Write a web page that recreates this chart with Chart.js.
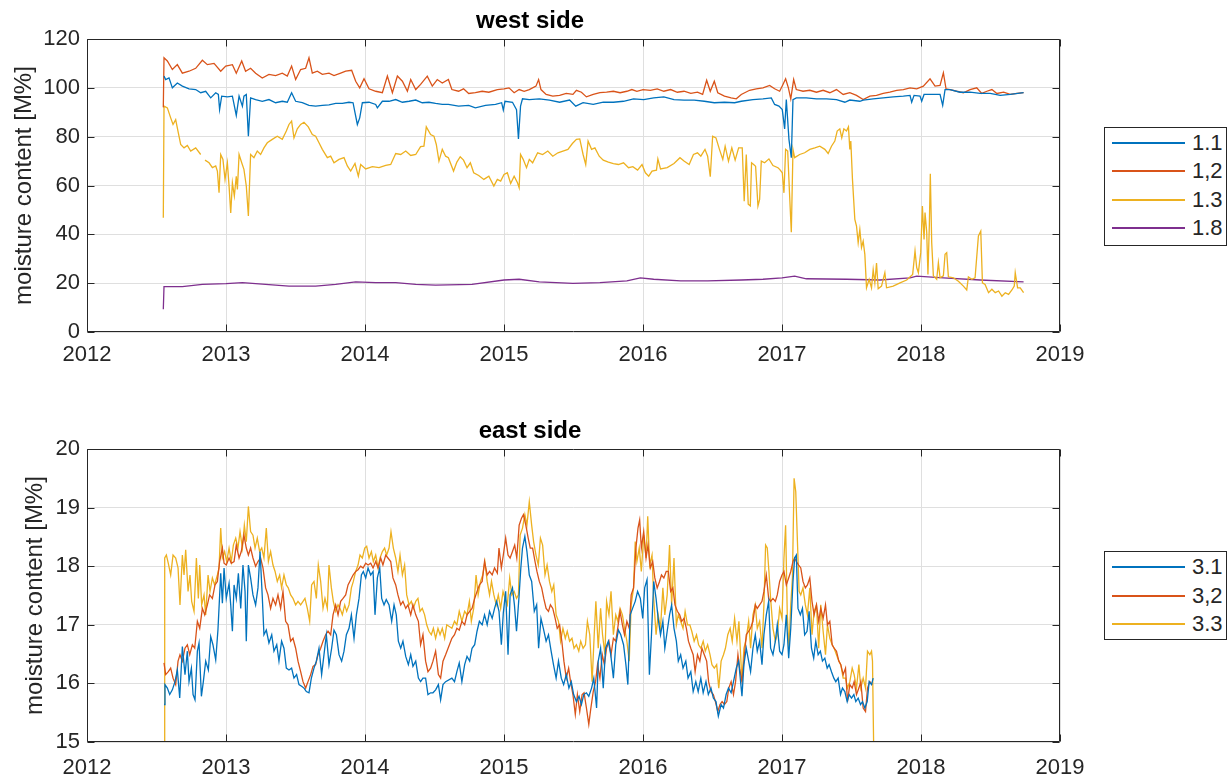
<!DOCTYPE html>
<html>
<head>
<meta charset="utf-8">
<script src="https://cdn.jsdelivr.net/npm/chart.js@4.4.1/dist/chart.umd.min.js"></script>
<style>
  html, body { margin: 0; padding: 0; background: #fff; }
  body { width: 1227px; height: 778px; position: relative; overflow: hidden; font-family: "Liberation Sans", Arial, Helvetica, sans-serif; }
  .wrap { position: absolute; left: 0; width: 1147px; }
  .legend { position: absolute; left: 1104px; width: 121px; border: 1px solid #262626; background: #fff; }
  .legend .row { position: absolute; left: 0; height: 0; }
  .legend .ln { position: absolute; left: 7px; width: 73px; height: 2px; top: -1px; }
  .legend .tx { position: absolute; left: 87px; top: -13px; font-size: 22px; line-height: 26px; color: #262626; white-space: nowrap; }
</style>
</head>
<body>
<div class="wrap" id="wTop" style="top:0;height:390px;"><canvas id="west"></canvas></div>
<div class="wrap" id="wBot" style="top:390px;height:388px;"><canvas id="east"></canvas></div>
<div class="legend" id="legWest" style="top:127px;height:117px;"></div>
<div class="legend" id="legEast" style="top:551px;height:87px;"></div>
<script>
// ---------------- DATA ----------------
const yearTicks = [2012, 2013, 2014, 2015, 2016, 2017, 2018, 2019];
const westYTicks = [0, 20, 40, 60, 80, 100, 120];
const eastYTicks = [15, 16, 17, 18, 19, 20];
const westLabels = ['1.1', '1,2', '1.3', '1.8'];
const eastLabels = ['3.1', '3,2', '3.3'];

const west11 = [[2012.554,104.8],[2012.566,103.4],[2012.590,104.1],[2012.614,100],[2012.650,102],[2012.686,100.7],[2012.734,99.6],[2012.782,99.3],[2012.818,98],[2012.854,98.6],[2012.890,95.9],[2012.926,98],[2012.945,97.3],[2012.954,91.1],[2012.969,96.6],[2013.010,96.3],[2013.046,96.6],[2013.074,88.7],[2013.094,96.6],[2013.118,92.5],[2013.129,96.6],[2013.146,97.3],[2013.161,80.2],[2013.177,95.9],[2013.213,95.2],[2013.261,94.5],[2013.309,95.2],[2013.357,93.9],[2013.405,94.5],[2013.441,94.1],[2013.472,98],[2013.501,94.5],[2013.549,93.9],[2013.597,92.8],[2013.645,92.5],[2013.693,92.8],[2013.741,93],[2013.789,93.6],[2013.837,93.6],[2013.885,94.1],[2013.914,93.9],[2013.928,89.8],[2013.945,85],[2013.962,87.7],[2013.981,93.9],[2014.029,94.1],[2014.077,93.2],[2014.089,91.8],[2014.125,94.5],[2014.173,94.5],[2014.221,95.2],[2014.269,94.1],[2014.317,94.5],[2014.365,95],[2014.412,93.9],[2014.460,94.1],[2014.508,93.6],[2014.556,93.2],[2014.600,93.2],[2014.673,92.5],[2014.746,92.8],[2014.794,91.8],[2014.867,92.8],[2014.939,93.2],[2014.983,93.9],[2014.995,90.9],[2015.007,94.5],[2015.061,94.1],[2015.090,91.1],[2015.104,79.1],[2015.119,92.5],[2015.133,95.5],[2015.182,95.2],[2015.254,95.5],[2015.327,95],[2015.400,94.1],[2015.472,95],[2015.516,92.5],[2015.569,93.9],[2015.642,93.2],[2015.714,94.1],[2015.787,94.1],[2015.860,94.5],[2015.932,95.5],[2016.005,95.2],[2016.077,95.9],[2016.150,96.3],[2016.223,95.2],[2016.295,95],[2016.368,95],[2016.441,94.5],[2016.513,93.9],[2016.586,94.1],[2016.659,93.9],[2016.707,94.5],[2016.791,95.2],[2016.863,95.5],[2016.923,95.9],[2016.947,93.2],[2016.978,92.5],[2017.002,91.1],[2017.019,83.2],[2017.031,95.2],[2017.050,78.9],[2017.067,71.4],[2017.079,95.2],[2017.103,95.9],[2017.175,95.9],[2017.248,95.5],[2017.320,95.5],[2017.392,95.2],[2017.452,94.1],[2017.488,95],[2017.560,94.5],[2017.584,95],[2017.656,95.5],[2017.728,95.9],[2017.800,96.3],[2017.873,96.6],[2017.921,96.9],[2017.933,94.1],[2017.950,96.9],[2017.993,96.6],[2018.005,94.5],[2018.022,97.3],[2018.089,97.3],[2018.137,97.3],[2018.156,92.8],[2018.173,99.3],[2018.209,99.3],[2018.281,98.2],[2018.353,98.2],[2018.425,97.7],[2018.498,97.7],[2018.570,96.9],[2018.642,97.3],[2018.738,98]];

const west12 = [[2012.549,92],[2012.554,112.3],[2012.578,111],[2012.614,107.5],[2012.650,109.5],[2012.686,106],[2012.734,106.8],[2012.782,108],[2012.830,111.3],[2012.866,109.5],[2012.914,110],[2012.962,106.8],[2012.998,108.9],[2013.046,109.5],[2013.074,106],[2013.113,111],[2013.141,106.8],[2013.177,108],[2013.213,106],[2013.261,104],[2013.309,105.5],[2013.357,105],[2013.405,106],[2013.441,104.8],[2013.472,108.9],[2013.501,103.4],[2013.537,107.5],[2013.573,108],[2013.597,112.3],[2013.621,106],[2013.657,106.8],[2013.693,105.5],[2013.741,106],[2013.777,105],[2013.825,106],[2013.861,106.8],[2013.904,107.2],[2013.933,102.7],[2013.962,100],[2013.993,103.7],[2014.029,99.6],[2014.077,98.6],[2014.125,98],[2014.161,104.8],[2014.197,98],[2014.233,104.8],[2014.269,102.7],[2014.305,98.6],[2014.329,103.4],[2014.365,99.3],[2014.400,101.4],[2014.448,104.8],[2014.484,100.7],[2014.520,103.4],[2014.556,102],[2014.600,103.4],[2014.625,99.3],[2014.673,98.6],[2014.709,99.6],[2014.746,97.7],[2014.794,98],[2014.843,98.6],[2014.891,98.2],[2014.952,99.3],[2015.000,99.6],[2015.036,100],[2015.073,98],[2015.109,99.3],[2015.145,98.6],[2015.182,99.3],[2015.230,100.7],[2015.249,103.4],[2015.266,99.3],[2015.303,97.3],[2015.351,96.6],[2015.400,96.9],[2015.448,97.7],[2015.496,97.3],[2015.521,99],[2015.557,98.2],[2015.593,96.3],[2015.642,97.3],[2015.690,98],[2015.738,98.2],[2015.787,98.6],[2015.835,98],[2015.884,98.6],[2015.920,99.3],[2015.956,98.6],[2016.000,99.3],[2016.053,99],[2016.102,99.6],[2016.150,98.6],[2016.199,99.3],[2016.247,98.2],[2016.295,98.6],[2016.344,97.7],[2016.392,98.2],[2016.429,97.3],[2016.458,103.1],[2016.484,98.6],[2016.513,102.7],[2016.538,98],[2016.586,96.6],[2016.634,95.9],[2016.671,95.5],[2016.707,97.3],[2016.767,99],[2016.815,99.6],[2016.863,100],[2016.911,101],[2016.947,99.6],[2016.983,98.6],[2017.007,101.4],[2017.026,103.7],[2017.046,100],[2017.063,95.5],[2017.084,103.4],[2017.103,99.3],[2017.151,98.6],[2017.200,99],[2017.248,98.2],[2017.296,99],[2017.344,98],[2017.392,99.3],[2017.440,97.3],[2017.488,98],[2017.536,96.9],[2017.584,95.2],[2017.632,96.6],[2017.680,96.9],[2017.728,97.7],[2017.776,98.2],[2017.825,99],[2017.873,99.3],[2017.921,100],[2017.969,99.6],[2018.017,100.7],[2018.065,103.7],[2018.101,100.7],[2018.137,101],[2018.161,106.1],[2018.180,99.6],[2018.209,99.3],[2018.257,98.6],[2018.305,98],[2018.353,99.3],[2018.401,100],[2018.437,97.7],[2018.474,98.6],[2018.510,99.3],[2018.546,97.7],[2018.594,98.2],[2018.642,97.3],[2018.690,97.7],[2018.738,98]];

const west13 = [[2012.549,46.8],[2012.554,92.5],[2012.578,91.8],[2012.602,87.7],[2012.619,85],[2012.638,87],[2012.657,81.6],[2012.674,76.8],[2012.698,75.4],[2012.722,76.4],[2012.746,74.1],[2012.782,75.4],[2012.818,72.7],[2012.835,null],[2012.849,70.4],[2012.878,69.3],[2012.902,67.3],[2012.926,68],[2012.938,65.9],[2012.950,57],[2012.962,72.7],[2012.978,70.7],[2012.993,62.5],[2013.010,69.3],[2013.022,59.8],[2013.034,48.8],[2013.046,61.1],[2013.060,55.7],[2013.074,63.8],[2013.082,58.4],[2013.094,72.7],[2013.113,69.3],[2013.129,66.6],[2013.146,59.8],[2013.161,47.5],[2013.177,72.7],[2013.201,71.4],[2013.225,74.1],[2013.249,72.7],[2013.273,75.4],[2013.297,77.5],[2013.333,78.9],[2013.369,80.2],[2013.405,78.9],[2013.434,82.3],[2013.453,85],[2013.472,86.4],[2013.489,79.5],[2013.513,83.2],[2013.537,85],[2013.561,85.9],[2013.592,84],[2013.621,80.9],[2013.645,80.2],[2013.669,77.5],[2013.693,74.8],[2013.729,71.4],[2013.753,72],[2013.777,69.3],[2013.813,70.7],[2013.849,71.4],[2013.873,68],[2013.897,65.9],[2013.928,69],[2013.952,63.8],[2013.969,68.6],[2014.005,66.8],[2014.053,67.7],[2014.101,67.3],[2014.149,68.2],[2014.185,68.6],[2014.221,73.1],[2014.257,72.7],[2014.293,74.1],[2014.329,72.3],[2014.365,72.7],[2014.400,75.9],[2014.424,76.1],[2014.441,84],[2014.472,80.9],[2014.496,80.2],[2014.513,76.8],[2014.532,70],[2014.556,74.8],[2014.580,72],[2014.600,71.4],[2014.637,65.9],[2014.661,69.6],[2014.685,71.8],[2014.709,70.4],[2014.734,67.3],[2014.758,69.3],[2014.782,65.2],[2014.818,64.1],[2014.855,62.5],[2014.891,63.8],[2014.927,59.8],[2014.952,62.5],[2014.976,61.8],[2015.000,64.5],[2015.024,65.2],[2015.048,60.8],[2015.073,63.8],[2015.097,61.1],[2015.109,59.1],[2015.119,72.7],[2015.138,70.7],[2015.162,67.3],[2015.182,70.7],[2015.206,69.3],[2015.242,73.4],[2015.278,72.7],[2015.315,74.1],[2015.351,72],[2015.388,73.4],[2015.424,74.1],[2015.460,74.8],[2015.492,77.2],[2015.521,78.9],[2015.545,79.1],[2015.569,72.7],[2015.588,68.6],[2015.605,78.2],[2015.630,74.8],[2015.654,75.4],[2015.685,72],[2015.714,70.4],[2015.751,69.6],[2015.787,69],[2015.823,68.6],[2015.860,69.3],[2015.896,67.3],[2015.927,67.7],[2015.961,66.3],[2015.993,68.6],[2016.017,65.2],[2016.041,63.8],[2016.065,65.9],[2016.097,66.3],[2016.107,70.9],[2016.126,66.8],[2016.174,67.3],[2016.223,69],[2016.266,71.4],[2016.295,70],[2016.332,68.6],[2016.363,72.7],[2016.392,73.4],[2016.416,72],[2016.446,74.8],[2016.465,72],[2016.484,63.6],[2016.501,80.2],[2016.525,79.5],[2016.550,74.8],[2016.574,70.7],[2016.591,76.1],[2016.615,70],[2016.639,75.4],[2016.663,70.4],[2016.688,75.4],[2016.714,75.4],[2016.728,53.6],[2016.743,72.7],[2016.757,52.3],[2016.772,51.6],[2016.781,69.3],[2016.796,68.6],[2016.810,67.9],[2016.827,51.6],[2016.839,54.3],[2016.851,70],[2016.875,69.3],[2016.906,70.9],[2016.935,68.2],[2016.971,67.3],[2016.983,66.6],[2017.002,65.2],[2017.014,57],[2017.026,74.8],[2017.041,74.1],[2017.055,55.7],[2017.067,40.9],[2017.079,74.8],[2017.091,71.4],[2017.127,72.7],[2017.163,73.4],[2017.200,74.8],[2017.236,75.4],[2017.272,76.1],[2017.308,74.8],[2017.332,73.1],[2017.356,76.1],[2017.380,78.2],[2017.397,82.3],[2017.416,83.2],[2017.430,79.5],[2017.445,83.2],[2017.464,82.3],[2017.478,84],[2017.488,74.8],[2017.495,78.2],[2017.507,62.5],[2017.524,46.1],[2017.536,43.4],[2017.548,36.6],[2017.560,42],[2017.572,34.6],[2017.584,37.2],[2017.596,31.8],[2017.608,18.1],[2017.627,21.6],[2017.644,18.1],[2017.656,25.5],[2017.668,20.1],[2017.680,28.2],[2017.692,17.7],[2017.716,18.8],[2017.740,24.3],[2017.752,18.1],[2017.800,18.8],[2017.849,20.1],[2017.897,21.3],[2017.940,23.6],[2017.957,33.2],[2017.969,26.4],[2017.981,24.3],[2017.998,32.5],[2018.010,51.6],[2018.022,37.9],[2018.029,48.9],[2018.041,40.9],[2018.050,23.6],[2018.060,43.6],[2018.067,64.8],[2018.077,36.6],[2018.089,23],[2018.113,21.6],[2018.125,28.4],[2018.137,22.2],[2018.161,23],[2018.173,31.8],[2018.185,32.5],[2018.197,22.6],[2018.233,22.2],[2018.269,20.8],[2018.305,18.8],[2018.329,17.2],[2018.341,22.6],[2018.365,21.6],[2018.389,22.2],[2018.413,39.3],[2018.430,41.3],[2018.442,20.1],[2018.461,19.5],[2018.486,16.1],[2018.510,17.5],[2018.534,16.1],[2018.558,16.8],[2018.582,14.7],[2018.606,16.1],[2018.630,15.4],[2018.654,17.2],[2018.671,18.8],[2018.678,24.3],[2018.695,18.1],[2018.714,18.1],[2018.738,16.1]];

const west18 = [[2012.549,9.3],[2012.554,18.6],[2012.686,18.6],[2012.830,19.5],[2013.000,19.8],[2013.118,20.2],[2013.285,19.5],[2013.453,18.8],[2013.645,18.8],[2013.789,19.5],[2013.933,20.5],[2014.077,20.2],[2014.221,20.2],[2014.365,19.5],[2014.508,19.2],[2014.770,19.5],[2015.000,21.3],[2015.109,21.6],[2015.254,20.5],[2015.496,19.9],[2015.690,20.2],[2015.884,20.9],[2015.981,22.2],[2016.077,21.6],[2016.271,20.9],[2016.465,20.9],[2016.707,21.3],[2016.863,21.6],[2017.000,22.2],[2017.091,22.9],[2017.175,21.8],[2017.464,21.6],[2017.704,21.3],[2017.921,22.2],[2017.969,22.9],[2018.161,22.2],[2018.425,21.3],[2018.738,20.5]];

const east31 = [[2012.554,15.64],[2012.561,15.98],[2012.578,15.92],[2012.595,15.81],[2012.614,15.89],[2012.633,16.03],[2012.650,16.23],[2012.667,15.75],[2012.686,16.63],[2012.705,16.15],[2012.722,16.55],[2012.734,16.03],[2012.751,16.26],[2012.763,15.81],[2012.777,15.72],[2012.794,16.55],[2012.806,16.69],[2012.823,15.78],[2012.837,16.03],[2012.854,16.38],[2012.873,16.23],[2012.890,16.8],[2012.906,16.66],[2012.926,16.4],[2012.942,16.91],[2012.962,17.88],[2012.974,17.37],[2012.986,17.97],[2013.002,17.45],[2013.022,17.71],[2013.034,17.34],[2013.046,16.89],[2013.058,17.68],[2013.074,17.45],[2013.089,17.88],[2013.106,17.28],[2013.122,18.02],[2013.137,17.57],[2013.146,16.72],[2013.161,18.02],[2013.177,17.8],[2013.194,17.51],[2013.213,17.34],[2013.230,17.63],[2013.245,18.25],[2013.261,17.48],[2013.273,16.83],[2013.290,16.91],[2013.309,16.69],[2013.329,16.83],[2013.345,16.55],[2013.365,16.66],[2013.381,16.38],[2013.400,16.72],[2013.417,16.6],[2013.434,16.26],[2013.453,16.23],[2013.472,16.26],[2013.489,16.09],[2013.508,16.15],[2013.525,15.98],[2013.544,15.95],[2013.561,15.92],[2013.578,15.86],[2013.597,15.84],[2013.614,16.09],[2013.633,16.26],[2013.650,16.38],[2013.669,16.6],[2013.688,16.15],[2013.705,16.49],[2013.722,16.83],[2013.741,16.32],[2013.760,16.6],[2013.777,16.91],[2013.794,16.83],[2013.813,16.49],[2013.832,16.38],[2013.849,16.55],[2013.866,16.83],[2013.885,16.94],[2013.902,17.17],[2013.921,16.77],[2013.938,17.17],[2013.957,17.45],[2013.974,17.85],[2013.988,17.91],[2014.005,17.8],[2014.022,17.97],[2014.041,17.85],[2014.058,17.91],[2014.072,17.17],[2014.089,17.8],[2014.106,17.97],[2014.120,17.45],[2014.137,17.34],[2014.153,17.43],[2014.173,17.34],[2014.192,17.06],[2014.209,17.34],[2014.225,17.17],[2014.240,16.72],[2014.257,16.6],[2014.273,16.72],[2014.293,16.46],[2014.312,16.32],[2014.329,16.49],[2014.345,16.29],[2014.365,16.38],[2014.384,16.09],[2014.400,16.03],[2014.417,16.09],[2014.436,16.09],[2014.453,15.81],[2014.472,15.84],[2014.489,15.84],[2014.508,15.89],[2014.528,15.98],[2014.544,15.72],[2014.561,15.98],[2014.580,16.03],[2014.625,16.09],[2014.644,16.03],[2014.661,16.2],[2014.678,16.35],[2014.697,16.03],[2014.717,16.32],[2014.734,16.46],[2014.753,16.38],[2014.770,16.6],[2014.789,16.66],[2014.806,16.89],[2014.823,17.06],[2014.843,17.0],[2014.860,17.17],[2014.879,17.0],[2014.896,17.23],[2014.915,17.11],[2014.932,17.28],[2014.947,17.4],[2014.964,17.23],[2014.981,16.66],[2014.995,17.2],[2015.012,17.57],[2015.029,16.49],[2015.044,17.51],[2015.061,17.63],[2015.075,17.34],[2015.090,16.89],[2015.109,17.51],[2015.121,17.97],[2015.133,18.31],[2015.150,18.51],[2015.165,18.25],[2015.182,17.85],[2015.199,17.74],[2015.218,17.23],[2015.235,17.34],[2015.249,16.6],[2015.266,17.11],[2015.283,16.94],[2015.303,16.72],[2015.320,16.83],[2015.339,16.55],[2015.356,16.32],[2015.375,16.09],[2015.392,16.38],[2015.412,16.09],[2015.429,15.98],[2015.448,16.15],[2015.467,15.92],[2015.484,16.03],[2015.501,15.81],[2015.521,15.69],[2015.540,15.78],[2015.557,15.64],[2015.574,15.81],[2015.593,15.84],[2015.610,15.78],[2015.630,15.92],[2015.646,16.09],[2015.666,15.58],[2015.678,16.38],[2015.695,16.6],[2015.714,15.92],[2015.731,16.6],[2015.751,16.72],[2015.768,16.49],[2015.787,16.09],[2015.804,16.66],[2015.823,16.91],[2015.840,16.83],[2015.860,16.66],[2015.877,16.32],[2015.891,15.98],[2015.908,17.17],[2015.925,17.28],[2015.944,17.4],[2015.961,17.57],[2015.981,17.45],[2015.998,17.11],[2016.012,17.63],[2016.029,17.77],[2016.046,16.15],[2016.061,16.83],[2016.077,17.74],[2016.094,17.45],[2016.109,17.11],[2016.126,16.83],[2016.143,17.06],[2016.157,16.6],[2016.174,16.89],[2016.191,17.17],[2016.206,17.34],[2016.223,16.94],[2016.240,16.72],[2016.254,16.38],[2016.271,16.49],[2016.288,16.26],[2016.308,16.38],[2016.324,16.09],[2016.344,16.2],[2016.361,15.86],[2016.380,16.03],[2016.397,15.86],[2016.416,16.09],[2016.433,15.84],[2016.453,16.03],[2016.470,15.81],[2016.489,15.92],[2016.506,15.75],[2016.525,15.69],[2016.542,15.44],[2016.562,15.64],[2016.579,15.58],[2016.598,15.81],[2016.615,15.92],[2016.634,15.84],[2016.651,16.03],[2016.671,16.26],[2016.688,16.38],[2016.712,15.78],[2016.726,16.32],[2016.743,16.6],[2016.760,16.38],[2016.774,16.2],[2016.791,16.6],[2016.808,16.83],[2016.822,16.55],[2016.839,16.72],[2016.856,16.32],[2016.870,16.83],[2016.887,17.17],[2016.904,17.4],[2016.918,16.6],[2016.935,16.49],[2016.952,16.72],[2016.966,17.0],[2016.983,16.55],[2017.000,16.49],[2017.014,16.66],[2017.031,17.17],[2017.048,16.43],[2017.063,16.94],[2017.079,17.74],[2017.091,18.14],[2017.103,18.19],[2017.115,17.28],[2017.132,17.17],[2017.147,17.28],[2017.163,16.83],[2017.180,16.89],[2017.195,17.23],[2017.212,16.6],[2017.228,16.43],[2017.243,16.72],[2017.260,16.49],[2017.276,16.55],[2017.291,16.38],[2017.308,16.43],[2017.325,16.26],[2017.339,16.32],[2017.356,16.2],[2017.373,16.09],[2017.387,16.03],[2017.404,16.09],[2017.421,15.81],[2017.435,15.92],[2017.452,15.86],[2017.469,15.69],[2017.483,15.81],[2017.500,15.75],[2017.517,15.81],[2017.531,15.69],[2017.548,15.75],[2017.565,15.64],[2017.579,15.69],[2017.596,15.58],[2017.613,15.69],[2017.627,16.03],[2017.644,15.98],[2017.656,16.09]];

const east32 = [[2012.554,16.35],[2012.566,16.15],[2012.585,16.2],[2012.602,16.26],[2012.619,16.09],[2012.638,15.98],[2012.655,16.38],[2012.669,16.49],[2012.686,16.38],[2012.705,16.6],[2012.722,16.66],[2012.739,16.49],[2012.758,16.66],[2012.775,16.6],[2012.794,17.06],[2012.811,16.94],[2012.830,17.28],[2012.847,17.17],[2012.866,17.34],[2012.882,17.51],[2012.902,17.45],[2012.921,17.68],[2012.938,17.74],[2012.954,18.08],[2012.974,18.31],[2012.986,18.05],[2013.002,18.02],[2013.022,18.14],[2013.038,18.05],[2013.058,18.08],[2013.074,18.36],[2013.094,18.14],[2013.110,18.25],[2013.129,18.53],[2013.146,18.31],[2013.161,18.19],[2013.177,18.31],[2013.194,18.14],[2013.213,18.0],[2013.230,18.08],[2013.249,18.14],[2013.266,17.97],[2013.285,17.63],[2013.302,17.51],[2013.321,17.28],[2013.338,17.45],[2013.357,17.34],[2013.374,17.51],[2013.393,17.28],[2013.410,17.57],[2013.429,17.06],[2013.446,17.0],[2013.465,16.72],[2013.482,16.77],[2013.501,16.6],[2013.518,16.38],[2013.537,16.2],[2013.554,16.03],[2013.573,15.92],[2013.590,16.03],[2013.609,16.15],[2013.626,16.29],[2013.645,16.32],[2013.662,16.49],[2013.681,16.6],[2013.698,16.72],[2013.717,16.83],[2013.734,16.89],[2013.753,16.83],[2013.770,17.17],[2013.789,17.34],[2013.806,17.17],[2013.825,17.4],[2013.842,17.45],[2013.861,17.51],[2013.878,17.68],[2013.897,17.77],[2013.914,17.85],[2013.933,17.91],[2013.950,17.94],[2013.969,18.0],[2013.986,17.97],[2014.005,18.05],[2014.022,18.02],[2014.041,18.05],[2014.058,17.97],[2014.077,18.08],[2014.094,17.97],[2014.113,18.14],[2014.129,18.02],[2014.149,18.19],[2014.165,18.14],[2014.185,18.08],[2014.201,17.8],[2014.221,17.68],[2014.237,17.51],[2014.257,17.34],[2014.273,17.4],[2014.293,17.28],[2014.309,17.34],[2014.329,17.17],[2014.345,17.34],[2014.365,17.17],[2014.384,17.06],[2014.400,16.66],[2014.417,16.83],[2014.436,16.38],[2014.453,16.2],[2014.472,16.26],[2014.489,16.38],[2014.508,16.55],[2014.528,16.15],[2014.544,16.09],[2014.561,16.38],[2014.580,16.49],[2014.625,16.77],[2014.644,16.83],[2014.661,16.94],[2014.678,16.91],[2014.697,17.06],[2014.717,17.0],[2014.734,17.17],[2014.753,17.23],[2014.770,17.28],[2014.789,17.45],[2014.806,17.57],[2014.823,17.68],[2014.843,17.74],[2014.860,18.08],[2014.879,17.85],[2014.896,17.91],[2014.915,17.85],[2014.932,17.97],[2014.952,17.88],[2014.964,18.31],[2014.981,17.97],[2014.995,18.19],[2015.012,18.48],[2015.029,18.19],[2015.044,18.14],[2015.061,18.25],[2015.077,18.36],[2015.092,18.14],[2015.109,18.7],[2015.126,18.82],[2015.140,18.88],[2015.157,18.7],[2015.174,18.48],[2015.189,18.31],[2015.206,18.31],[2015.223,18.08],[2015.237,17.91],[2015.254,17.74],[2015.271,17.63],[2015.286,17.45],[2015.303,17.28],[2015.320,17.23],[2015.334,17.34],[2015.351,17.28],[2015.368,17.11],[2015.383,16.94],[2015.400,17.0],[2015.416,16.72],[2015.431,16.38],[2015.448,16.09],[2015.465,16.26],[2015.479,16.03],[2015.496,15.81],[2015.513,15.47],[2015.528,15.81],[2015.545,15.52],[2015.562,15.81],[2015.576,15.84],[2015.593,15.58],[2015.610,15.3],[2015.625,15.58],[2015.642,15.86],[2015.659,16.03],[2015.673,16.32],[2015.690,16.09],[2015.707,16.49],[2015.722,16.32],[2015.738,16.6],[2015.755,16.72],[2015.770,16.49],[2015.787,16.77],[2015.804,16.72],[2015.818,16.94],[2015.835,17.23],[2015.852,17.0],[2015.867,16.83],[2015.884,17.06],[2015.901,16.94],[2015.915,17.51],[2015.932,17.63],[2015.949,18.31],[2015.964,18.65],[2015.976,18.79],[2015.988,18.31],[2016.005,18.59],[2016.022,18.14],[2016.036,18.36],[2016.053,17.97],[2016.070,18.08],[2016.085,17.8],[2016.102,17.63],[2016.119,17.74],[2016.133,17.85],[2016.150,17.8],[2016.167,17.91],[2016.182,17.91],[2016.199,17.57],[2016.215,17.63],[2016.230,17.34],[2016.247,17.23],[2016.264,17.17],[2016.278,17.06],[2016.295,17.11],[2016.312,16.94],[2016.327,16.72],[2016.344,16.6],[2016.361,16.49],[2016.375,16.2],[2016.392,16.49],[2016.409,16.38],[2016.424,16.6],[2016.441,16.49],[2016.458,16.38],[2016.472,16.03],[2016.489,15.86],[2016.506,15.81],[2016.521,15.69],[2016.538,15.52],[2016.554,15.64],[2016.569,15.69],[2016.586,15.64],[2016.603,15.69],[2016.617,15.92],[2016.634,16.03],[2016.651,15.81],[2016.666,16.03],[2016.683,16.49],[2016.695,16.26],[2016.712,16.03],[2016.726,16.38],[2016.743,16.83],[2016.760,16.89],[2016.774,16.94],[2016.791,17.06],[2016.808,17.34],[2016.822,17.28],[2016.839,17.34],[2016.856,17.4],[2016.870,17.57],[2016.887,17.85],[2016.904,17.45],[2016.918,17.4],[2016.935,17.45],[2016.952,17.4],[2016.966,17.51],[2016.983,17.74],[2017.000,17.85],[2017.014,17.91],[2017.031,17.68],[2017.048,17.8],[2017.063,17.91],[2017.079,18.08],[2017.091,18.14],[2017.103,18.08],[2017.120,18.02],[2017.135,17.97],[2017.151,17.74],[2017.168,17.63],[2017.183,17.68],[2017.200,17.8],[2017.216,17.4],[2017.231,17.17],[2017.248,17.34],[2017.264,17.06],[2017.279,17.28],[2017.296,17.11],[2017.313,17.34],[2017.327,17.0],[2017.344,17.06],[2017.361,16.66],[2017.375,16.6],[2017.392,16.55],[2017.409,16.38],[2017.423,16.32],[2017.440,16.15],[2017.457,16.26],[2017.471,15.69],[2017.488,15.98],[2017.505,15.92],[2017.519,16.03],[2017.536,15.81],[2017.553,15.92],[2017.567,16.03],[2017.584,15.58],[2017.601,15.52],[2017.615,15.92],[2017.632,16.03],[2017.649,15.98]];

const east33 = [[2012.554,15.0],[2012.559,18.14],[2012.571,18.19],[2012.585,18.05],[2012.602,17.85],[2012.619,18.19],[2012.638,18.14],[2012.655,17.97],[2012.669,17.34],[2012.686,18.19],[2012.698,17.85],[2012.710,18.28],[2012.727,17.57],[2012.741,17.85],[2012.753,17.4],[2012.770,17.23],[2012.787,18.14],[2012.801,17.45],[2012.811,18.02],[2012.825,17.34],[2012.842,17.51],[2012.854,17.17],[2012.871,17.85],[2012.885,17.57],[2012.902,17.8],[2012.918,17.68],[2012.938,17.85],[2012.950,17.97],[2012.962,18.65],[2012.974,18.14],[2012.990,18.25],[2013.005,18.08],[2013.022,18.31],[2013.038,18.08],[2013.053,18.36],[2013.070,18.48],[2013.086,18.31],[2013.101,18.59],[2013.118,18.31],[2013.132,18.7],[2013.146,18.42],[2013.161,19.02],[2013.177,18.59],[2013.194,18.53],[2013.209,18.31],[2013.225,18.48],[2013.242,18.25],[2013.257,18.31],[2013.273,18.14],[2013.290,18.65],[2013.305,18.08],[2013.321,18.25],[2013.338,18.02],[2013.353,17.91],[2013.369,17.74],[2013.386,17.85],[2013.400,17.63],[2013.417,17.85],[2013.434,17.68],[2013.448,17.63],[2013.465,17.51],[2013.482,17.45],[2013.501,17.34],[2013.518,17.4],[2013.537,17.34],[2013.554,17.4],[2013.568,17.45],[2013.585,17.28],[2013.602,17.06],[2013.616,17.68],[2013.633,17.74],[2013.650,17.45],[2013.664,18.02],[2013.681,17.74],[2013.698,17.28],[2013.712,17.45],[2013.729,17.28],[2013.741,18.02],[2013.758,17.63],[2013.772,17.4],[2013.789,17.23],[2013.806,17.34],[2013.820,17.28],[2013.837,17.17],[2013.854,17.34],[2013.868,17.23],[2013.885,17.34],[2013.902,17.63],[2013.916,17.74],[2013.933,17.91],[2013.950,18.02],[2013.964,18.19],[2013.981,18.14],[2013.998,18.31],[2014.012,18.34],[2014.029,18.14],[2014.046,18.25],[2014.060,18.08],[2014.077,18.19],[2014.094,17.97],[2014.108,18.14],[2014.125,18.25],[2014.141,18.31],[2014.156,18.19],[2014.173,18.31],[2014.187,18.59],[2014.204,18.31],[2014.221,18.14],[2014.237,17.91],[2014.252,18.19],[2014.269,17.85],[2014.285,18.02],[2014.300,17.51],[2014.317,17.34],[2014.333,17.4],[2014.348,17.28],[2014.365,17.4],[2014.381,17.45],[2014.396,17.23],[2014.412,17.28],[2014.429,17.17],[2014.444,17.0],[2014.460,16.89],[2014.477,16.83],[2014.492,16.94],[2014.508,16.77],[2014.525,16.94],[2014.540,16.83],[2014.556,16.94],[2014.573,16.77],[2014.588,17.0],[2014.625,16.94],[2014.644,17.06],[2014.661,17.0],[2014.678,17.23],[2014.697,17.06],[2014.717,17.23],[2014.734,17.17],[2014.751,17.4],[2014.765,17.06],[2014.782,17.28],[2014.799,17.85],[2014.814,17.51],[2014.831,17.74],[2014.847,17.85],[2014.862,18.08],[2014.879,17.74],[2014.896,17.51],[2014.910,17.74],[2014.927,17.51],[2014.944,17.34],[2014.959,17.51],[2014.976,17.28],[2014.993,17.57],[2015.007,17.45],[2015.024,17.34],[2015.041,17.8],[2015.056,17.51],[2015.073,17.57],[2015.090,17.45],[2015.104,17.51],[2015.116,18.53],[2015.133,18.65],[2015.150,18.88],[2015.165,18.7],[2015.182,19.1],[2015.199,18.7],[2015.213,18.42],[2015.230,18.19],[2015.247,18.02],[2015.262,18.48],[2015.278,18.36],[2015.295,17.85],[2015.310,18.02],[2015.327,17.74],[2015.344,17.57],[2015.358,17.68],[2015.375,17.17],[2015.392,17.06],[2015.407,16.72],[2015.424,16.94],[2015.441,16.77],[2015.455,16.89],[2015.472,16.72],[2015.489,16.77],[2015.504,16.6],[2015.521,16.66],[2015.538,16.55],[2015.552,16.72],[2015.569,16.6],[2015.586,16.66],[2015.600,17.06],[2015.617,16.83],[2015.634,16.03],[2015.649,16.83],[2015.661,17.4],[2015.678,16.6],[2015.695,17.28],[2015.709,16.83],[2015.726,16.49],[2015.738,17.4],[2015.755,17.17],[2015.770,17.57],[2015.787,16.83],[2015.804,17.17],[2015.818,17.06],[2015.835,17.28],[2015.852,17.17],[2015.867,16.94],[2015.884,16.72],[2015.901,16.38],[2015.915,17.34],[2015.932,17.63],[2015.944,18.42],[2015.956,18.08],[2015.973,18.31],[2015.988,17.91],[2016.005,18.53],[2016.022,18.14],[2016.034,18.85],[2016.048,18.02],[2016.065,18.19],[2016.077,17.45],[2016.094,16.83],[2016.109,17.17],[2016.126,16.94],[2016.143,17.63],[2016.157,17.17],[2016.174,17.51],[2016.191,18.36],[2016.206,17.34],[2016.223,18.14],[2016.240,17.0],[2016.254,17.17],[2016.271,17.06],[2016.288,16.94],[2016.303,17.23],[2016.320,17.0],[2016.337,17.0],[2016.351,16.89],[2016.368,16.72],[2016.385,16.83],[2016.400,16.66],[2016.416,16.6],[2016.433,16.72],[2016.448,16.55],[2016.465,16.66],[2016.482,16.49],[2016.496,16.32],[2016.513,16.26],[2016.530,16.32],[2016.545,15.92],[2016.562,16.38],[2016.579,16.49],[2016.593,16.6],[2016.610,16.83],[2016.627,16.94],[2016.642,16.72],[2016.659,17.11],[2016.676,16.72],[2016.690,17.06],[2016.712,16.03],[2016.726,16.6],[2016.743,16.77],[2016.760,17.06],[2016.774,16.6],[2016.791,17.17],[2016.808,17.34],[2016.822,16.94],[2016.839,17.06],[2016.856,16.6],[2016.870,17.34],[2016.882,18.36],[2016.894,18.31],[2016.906,17.91],[2016.918,17.45],[2016.935,16.94],[2016.952,16.72],[2016.966,16.83],[2016.983,17.28],[2017.000,17.11],[2017.014,18.14],[2017.026,18.7],[2017.038,17.17],[2017.050,16.6],[2017.063,17.34],[2017.075,17.8],[2017.087,19.5],[2017.099,19.27],[2017.111,18.42],[2017.123,17.57],[2017.135,17.51],[2017.151,17.63],[2017.168,17.34],[2017.183,17.17],[2017.200,17.63],[2017.216,16.83],[2017.231,17.23],[2017.248,17.34],[2017.264,16.6],[2017.279,17.34],[2017.296,16.89],[2017.313,16.49],[2017.327,17.0],[2017.344,16.77],[2017.361,16.66],[2017.375,16.6],[2017.392,16.49],[2017.409,16.38],[2017.423,16.32],[2017.440,16.09],[2017.457,16.09],[2017.471,15.92],[2017.488,16.03],[2017.505,16.26],[2017.519,16.15],[2017.536,15.92],[2017.553,16.32],[2017.567,15.92],[2017.584,16.09],[2017.601,15.92],[2017.615,16.55],[2017.632,16.49],[2017.644,16.55],[2017.651,16.38],[2017.659,15.0]];

// ---------------- STYLE ----------------
const seriesColors = ['#0072BD', '#D95319', '#EDB120', '#7E2F8E'];
const FONT = '"Liberation Sans", Arial, Helvetica, sans-serif';
const AX = '#262626';
Chart.defaults.font.family = FONT;
Chart.defaults.color = AX;

const matlabBox = {
  id: 'matlabBox',
  afterDraw(chart) {
    const { ctx, chartArea: a, scales: { x, y } } = chart;
    const L = Math.round(a.left) + 0.5, R = Math.round(a.right) - 0.5;
    const T = Math.round(a.top) + 0.5, B = Math.round(a.bottom) - 0.5;
    ctx.save();
    ctx.strokeStyle = AX;
    ctx.lineWidth = 1;
    ctx.beginPath();
    ctx.rect(L, T, R - L, B - T);
    const tl = 7;
    x.ticks.forEach(t => {
      const p = Math.round(x.getPixelForValue(t.value)) + 0.5;
      ctx.moveTo(p, T); ctx.lineTo(p, T + tl);
      ctx.moveTo(p, B); ctx.lineTo(p, B - tl);
    });
    y.ticks.forEach(t => {
      const p = Math.round(y.getPixelForValue(t.value)) + 0.5;
      ctx.moveTo(L, p); ctx.lineTo(L + tl, p);
      ctx.moveTo(R, p); ctx.lineTo(R - tl, p);
    });
    ctx.stroke();
    ctx.restore();
  }
};

function makeChart(id, title, series, labels, yTicks, opt) {
  const datasets = series.map((d, i) => ({
    label: labels[i],
    data: d,
    borderColor: seriesColors[i],
    backgroundColor: seriesColors[i],
    borderWidth: 1.3,
    pointRadius: 0,
    pointHoverRadius: 0,
    tension: 0,
    fill: false,
    spanGaps: false
  }));
  return new Chart(document.getElementById(id), {
    type: 'line',
    data: { datasets },
    plugins: [matlabBox],
    options: {
      responsive: true,
      maintainAspectRatio: false,
      animation: false,
      events: [],
      layout: { padding: { top: 0, left: 0, right: 87, bottom: 0 } },
      plugins: {
        legend: { display: false },
        tooltip: { enabled: false },
        title: {
          display: true,
          text: title,
          color: '#000',
          font: { size: 24, weight: 'bold', family: FONT, lineHeight: 1.2 },
          padding: { top: opt.titleTop, bottom: opt.titleBottom }
        }
      },
      scales: {
        x: {
          type: 'linear',
          min: yearTicks[0],
          max: yearTicks[yearTicks.length - 1],
          afterBuildTicks: s => { s.ticks = yearTicks.map(v => ({ value: v })); },
          afterFit: s => { s.height = opt.xAxisH; },
          ticks: { autoSkip: false, maxRotation: 0, padding: opt.xPad, color: AX, font: { size: 22 }, callback: v => String(v) },
          grid: { color: '#dfdfdf', lineWidth: 1, drawTicks: false },
          border: { display: false }
        },
        y: {
          type: 'linear',
          min: yTicks[0],
          max: yTicks[yTicks.length - 1],
          afterBuildTicks: s => { s.ticks = yTicks.map(v => ({ value: v })); },
          afterFit: s => { s.width = 87; },
          ticks: { padding: 7, color: AX, font: { size: 22 }, callback: v => String(v) },
          grid: { color: '#dfdfdf', lineWidth: 1, drawTicks: false },
          border: { display: false },
          title: {
            display: true,
            text: 'moisture content [M%]',
            color: AX,
            font: { size: 24, family: FONT, lineHeight: 1.2 },
            padding: { top: opt.yTitlePad, bottom: 0 }
          }
        }
      }
    }
  });
}

makeChart('west', 'west side', [west11, west12, west13, west18], westLabels, westYTicks,
  { titleTop: 6.6, titleBottom: 3.6, xAxisH: 58, yTitlePad: 10, xPad: 10 });
makeChart('east', 'east side', [east31, east32, east33], eastLabels, eastYTicks,
  { titleTop: 26.6, titleBottom: 3.6, xAxisH: 36, yTitlePad: 21, xPad: 13 });

function makeLegend(id, labels, rowYs) {
  const box = document.getElementById(id);
  labels.forEach((lab, i) => {
    const row = document.createElement('div');
    row.className = 'row';
    row.style.top = rowYs[i] + 'px';
    const ln = document.createElement('div');
    ln.className = 'ln';
    ln.style.background = seriesColors[i];
    const tx = document.createElement('div');
    tx.className = 'tx';
    tx.textContent = lab;
    row.appendChild(ln);
    row.appendChild(tx);
    box.appendChild(row);
  });
}
makeLegend('legWest', westLabels, [15, 43, 72, 100]);
makeLegend('legEast', eastLabels, [15, 44, 72]);
</script>
</body>
</html>
